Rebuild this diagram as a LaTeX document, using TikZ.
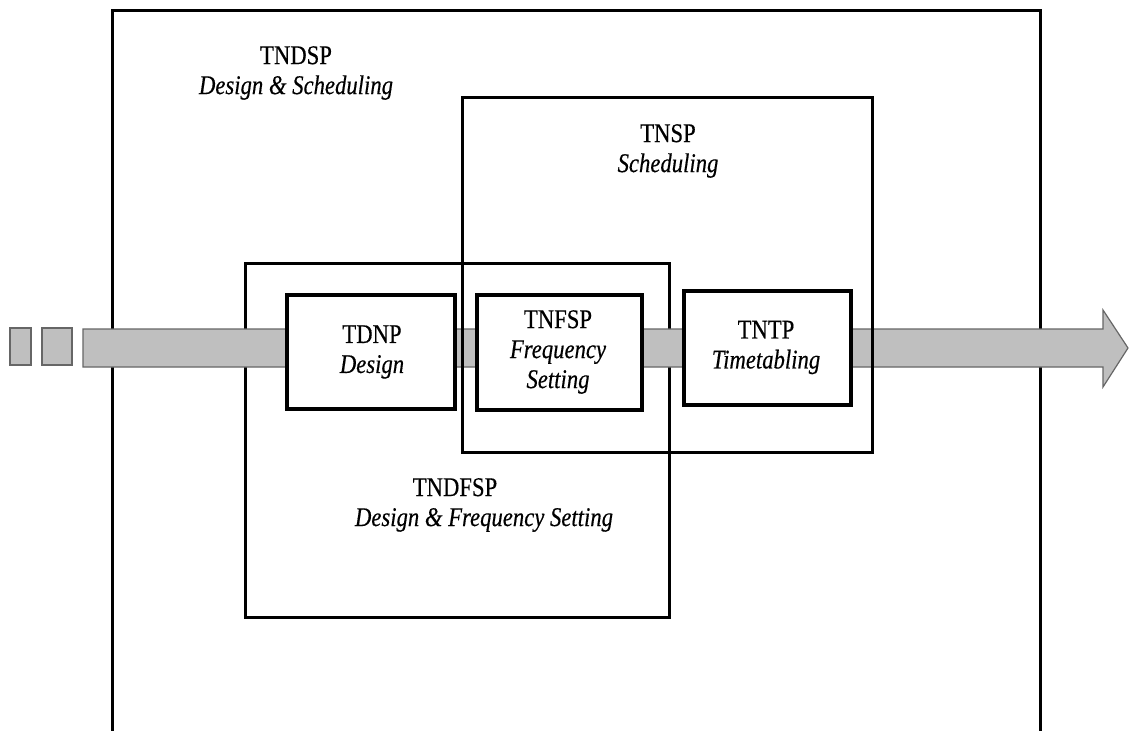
\documentclass[tikz,border=0pt]{standalone}
\usepackage{fontspec}
\setmainfont[FakeStretch=0.84,FakeBold=0.4]{Liberation Serif}
\begin{document}
\begin{tikzpicture}[x=1pt,y=-1pt,
  frame/.style={draw=black, line width=3pt},
  stagebox/.style={draw=black, line width=3.6pt, fill=white, rectangle, inner sep=0pt},
  lbl/.style={font=\fontsize{27}{30}\selectfont, align=center, inner sep=0pt},
  band/.style={fill=gray!50, draw=black!60, line width=1.2pt, line join=miter}]
\useasboundingbox (0,0) rectangle (1130,731);
% outer frame (open at bottom)
\draw[frame] (112,740) -- (112,10) -- (1040,10) -- (1040,740);
% TNDFSP frame
\node[frame, rectangle, minimum width=424pt, minimum height=354pt, inner sep=0pt] (tndfsp) at (457,440) {};
% band arrow
\draw[band] (83,329) -- (1103,329) -- (1103,310) -- (1128,348) -- (1103,387) -- (1103,367) -- (83,367) -- cycle;
\node[band, rectangle, minimum width=21pt, minimum height=37pt, inner sep=0pt] (sqa) at (20.5,346.5) {};
\node[band, rectangle, minimum width=30pt, minimum height=37pt, inner sep=0pt] (sqb) at (57,346.5) {};
% TNSP frame (over band)
\node[frame, rectangle, minimum width=410pt, minimum height=355pt, inner sep=0pt] (tnsp) at (667.5,275) {};
% stage boxes
\node[stagebox, minimum width=168pt, minimum height=114pt] (tdnp) at (371,352) {};
\node[stagebox, minimum width=165pt, minimum height=115pt] (tnfsp) at (559.5,352.5) {};
\node[stagebox, minimum width=167pt, minimum height=114pt] (tntp) at (767.5,348) {};
% labels
\node[lbl] (ltndsp) at (296,73) {TNDSP\\\textit{Design \& Scheduling}};
\node[lbl] (ltnsp) at (668,151) {TNSP\\\textit{Scheduling}};
\node[lbl] (ltndfsp) at (484,505) {\hspace*{-58pt}TNDFSP\\\textit{Design \& Frequency Setting}};
\node[lbl] (ltdnp) at (372,352) {TDNP\\\textit{Design}};
\node[lbl] (ltnfsp) at (558,352) {TNFSP\\\textit{Frequency}\\\textit{Setting}};
\node[lbl] (ltntp) at (766,347.5) {TNTP\\\textit{Timetabling}};
\end{tikzpicture}
\end{document}
